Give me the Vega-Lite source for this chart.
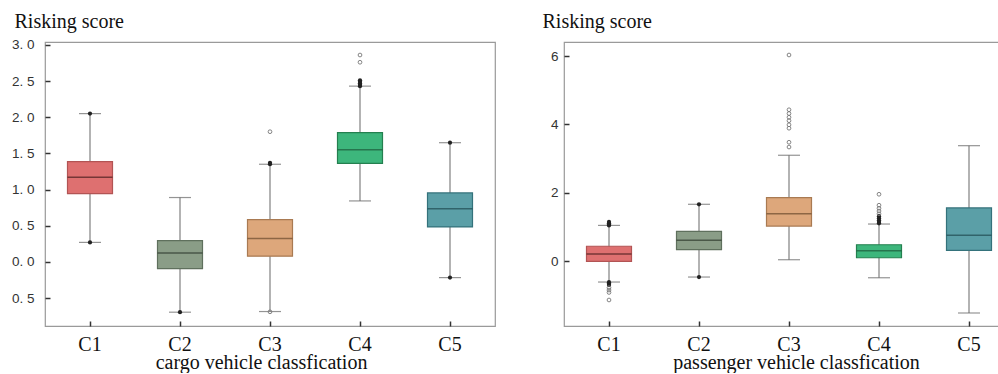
{
  "$schema": "https://vega.github.io/schema/vega-lite/v6.json",
  "padding": {"left": 10, "top": 10, "right": 0, "bottom": 0},
  "background": "white",
  "spacing": 45,
  "datasets": {
    "cargo_box": [
      {"cat": "C1", "lo": 0.27, "q1": 0.943, "med": 1.17, "q3": 1.385, "hi": 2.05},
      {"cat": "C2", "lo": -0.695, "q1": -0.092, "med": 0.124, "q3": 0.295, "hi": 0.89},
      {"cat": "C3", "lo": -0.686, "q1": 0.079, "med": 0.322, "q3": 0.585, "hi": 1.35},
      {"cat": "C4", "lo": 0.843, "q1": 1.363, "med": 1.55, "q3": 1.786, "hi": 2.43},
      {"cat": "C5", "lo": -0.217, "q1": 0.483, "med": 0.736, "q3": 0.953, "hi": 1.648}
    ],
    "cargo_pts": [
      {"cat": "C1", "v": 2.05, "kind": "filled"},
      {"cat": "C1", "v": 0.27, "kind": "filled"},
      {"cat": "C2", "v": -0.695, "kind": "filled"},
      {"cat": "C3", "v": 1.35, "kind": "filled"},
      {"cat": "C3", "v": 1.37, "kind": "filled"},
      {"cat": "C3", "v": 1.80, "kind": "open"},
      {"cat": "C3", "v": -0.69, "kind": "open"},
      {"cat": "C4", "v": 2.43, "kind": "filled"},
      {"cat": "C4", "v": 2.45, "kind": "filled"},
      {"cat": "C4", "v": 2.47, "kind": "filled"},
      {"cat": "C4", "v": 2.49, "kind": "filled"},
      {"cat": "C4", "v": 2.51, "kind": "filled"},
      {"cat": "C4", "v": 2.76, "kind": "open"},
      {"cat": "C4", "v": 2.86, "kind": "open"},
      {"cat": "C5", "v": 1.648, "kind": "filled"},
      {"cat": "C5", "v": -0.217, "kind": "filled"}
    ],
    "pass_box": [
      {"cat": "C1", "lo": -0.605, "q1": 0.0, "med": 0.213, "q3": 0.44, "hi": 1.05},
      {"cat": "C2", "lo": -0.459, "q1": 0.34, "med": 0.614, "q3": 0.877, "hi": 1.667},
      {"cat": "C3", "lo": 0.047, "q1": 1.03, "med": 1.39, "q3": 1.86, "hi": 3.10},
      {"cat": "C4", "lo": -0.48, "q1": 0.105, "med": 0.31, "q3": 0.485, "hi": 1.09},
      {"cat": "C5", "lo": -1.51, "q1": 0.32, "med": 0.76, "q3": 1.56, "hi": 3.38}
    ],
    "pass_pts": [
      {"cat": "C1", "v": 1.05, "kind": "filled"},
      {"cat": "C1", "v": 1.08, "kind": "filled"},
      {"cat": "C1", "v": 1.11, "kind": "filled"},
      {"cat": "C1", "v": 1.15, "kind": "filled"},
      {"cat": "C1", "v": -0.61, "kind": "filled"},
      {"cat": "C1", "v": -0.65, "kind": "filled"},
      {"cat": "C1", "v": -0.69, "kind": "filled"},
      {"cat": "C1", "v": -0.77, "kind": "open"},
      {"cat": "C1", "v": -0.84, "kind": "open"},
      {"cat": "C1", "v": -0.91, "kind": "open"},
      {"cat": "C1", "v": -1.13, "kind": "open"},
      {"cat": "C2", "v": 1.667, "kind": "filled"},
      {"cat": "C2", "v": -0.459, "kind": "filled"},
      {"cat": "C3", "v": 6.03, "kind": "open"},
      {"cat": "C3", "v": 4.43, "kind": "open"},
      {"cat": "C3", "v": 4.32, "kind": "open"},
      {"cat": "C3", "v": 4.21, "kind": "open"},
      {"cat": "C3", "v": 4.11, "kind": "open"},
      {"cat": "C3", "v": 3.99, "kind": "open"},
      {"cat": "C3", "v": 3.89, "kind": "open"},
      {"cat": "C3", "v": 3.48, "kind": "open"},
      {"cat": "C3", "v": 3.34, "kind": "open"},
      {"cat": "C4", "v": 1.96, "kind": "open"},
      {"cat": "C4", "v": 1.64, "kind": "open"},
      {"cat": "C4", "v": 1.55, "kind": "open"},
      {"cat": "C4", "v": 1.47, "kind": "open"},
      {"cat": "C4", "v": 1.39, "kind": "open"},
      {"cat": "C4", "v": 1.32, "kind": "filled"},
      {"cat": "C4", "v": 1.26, "kind": "filled"},
      {"cat": "C4", "v": 1.20, "kind": "filled"},
      {"cat": "C4", "v": 1.15, "kind": "filled"},
      {"cat": "C4", "v": 1.11, "kind": "filled"}
    ]
  },
  "config": {
    "view": {"stroke": "#9a9a9a", "strokeWidth": 1.2},
    "axis": {"grid": false, "domain": false, "tickColor": "#333", "tickWidth": 1.5, "tickSize": -5},
    "axisX": {"labelFont": "Liberation Serif", "labelFontSize": 20, "labelColor": "#111", "labelAngle": 0, "labelBaseline": "alphabetic", "labelPadding": 29,
              "titleFont": "Liberation Serif", "titleFontSize": 20, "titleFontWeight": "normal", "titleColor": "#111", "titleBaseline": "alphabetic", "titleY": 42, "titleAlign": "center"},
    "axisY": {"labelFont": "Liberation Sans", "labelFontSize": 13.5, "labelColor": "#333",
              "titleFont": "Liberation Serif", "titleFontSize": 20, "titleFontWeight": "normal", "titleColor": "#111", "titleAngle": 0, "titleAlign": "left", "titleBaseline": "alphabetic", "titleY": -15}
  },
  "hconcat": [
    {
      "width": 450,
      "height": 284,
      "layer": [
        {
          "data": {"name": "cargo_box"},
          "mark": {"type": "rule", "color": "#808080", "strokeWidth": 1.2},
          "encoding": {
            "x": {"field": "cat", "type": "nominal", "scale": {"paddingInner": 0, "paddingOuter": 0}, "axis": {"title": "cargo vehicle classfication", "titleX": 216}},
            "y": {"field": "lo", "type": "quantitative", "scale": {"domain": [-0.886, 3.04], "nice": false, "zero": false},
                  "axis": {"title": "Risking score", "titleX": -31, "labelPadding": 16, "values": [-0.5, 0, 0.5, 1, 1.5, 2, 2.5, 3], "labelExpr": "replace(format(abs(datum.value), '.1f'), '.', '. ')"}},
            "y2": {"field": "hi"}
          }
        },
        {
          "data": {"name": "cargo_box"},
          "mark": {"type": "tick", "color": "#666", "thickness": 1.2, "size": 22},
          "encoding": {"x": {"field": "cat", "type": "nominal"}, "y": {"field": "lo", "type": "quantitative"}}
        },
        {
          "data": {"name": "cargo_box"},
          "mark": {"type": "tick", "color": "#666", "thickness": 1.2, "size": 22},
          "encoding": {"x": {"field": "cat", "type": "nominal"}, "y": {"field": "hi", "type": "quantitative"}}
        },
        {
          "data": {"name": "cargo_box"},
          "mark": {"type": "bar", "width": {"band": 0.5}, "strokeWidth": 1.2},
          "encoding": {
            "x": {"field": "cat", "type": "nominal"},
            "y": {"field": "q1", "type": "quantitative"},
            "y2": {"field": "q3"},
            "fill": {"field": "cat", "type": "nominal", "legend": null, "scale": {"domain": ["C1", "C2", "C3", "C4", "C5"], "range": ["#DE7070", "#8A9D87", "#DDA77B", "#3DB67C", "#5B9FA7"]}},
            "stroke": {"field": "cat", "type": "nominal", "legend": null, "scale": {"domain": ["C1", "C2", "C3", "C4", "C5"], "range": ["#B25454", "#5F705D", "#A97A52", "#24804F", "#34727B"]}}
          }
        },
        {
          "data": {"name": "cargo_box"},
          "mark": {"type": "tick", "thickness": 1.5, "size": 45},
          "encoding": {
            "x": {"field": "cat", "type": "nominal"},
            "y": {"field": "med", "type": "quantitative"},
            "color": {"field": "cat", "type": "nominal", "legend": null, "scale": {"domain": ["C1", "C2", "C3", "C4", "C5"], "range": ["#4a1e1e", "#2f3a2e", "#6b4a2e", "#1d5a3a", "#204a50"]}}
          }
        },
        {
          "data": {"name": "cargo_pts"},
          "transform": [{"filter": "datum.kind === 'filled'"}],
          "mark": {"type": "point", "shape": "circle", "filled": true, "color": "#222", "size": 18, "opacity": 1},
          "encoding": {"x": {"field": "cat", "type": "nominal"}, "y": {"field": "v", "type": "quantitative"}}
        },
        {
          "data": {"name": "cargo_pts"},
          "transform": [{"filter": "datum.kind === 'open'"}],
          "mark": {"type": "point", "shape": "circle", "filled": false, "color": "#777", "size": 14, "strokeWidth": 0.9, "opacity": 1},
          "encoding": {"x": {"field": "cat", "type": "nominal"}, "y": {"field": "v", "type": "quantitative"}}
        }
      ]
    },
    {
      "width": 438,
      "height": 284,
      "layer": [
        {
          "data": {"name": "pass_box"},
          "mark": {"type": "rule", "color": "#808080", "strokeWidth": 1.2},
          "encoding": {
            "x": {"field": "cat", "type": "nominal", "scale": {"paddingInner": 0, "paddingOuter": 0, "range": [0, 450]}, "axis": {"title": "passenger vehicle classfication", "titleX": 232}},
            "y": {"field": "lo", "type": "quantitative", "scale": {"domain": [-1.89, 6.41], "nice": false, "zero": false},
                  "axis": {"title": "Risking score", "titleX": -22, "labelPadding": 11, "values": [0, 2, 4, 6], "format": "d"}},
            "y2": {"field": "hi"}
          }
        },
        {
          "data": {"name": "pass_box"},
          "mark": {"type": "tick", "color": "#666", "thickness": 1.2, "size": 22},
          "encoding": {"x": {"field": "cat", "type": "nominal"}, "y": {"field": "lo", "type": "quantitative"}}
        },
        {
          "data": {"name": "pass_box"},
          "mark": {"type": "tick", "color": "#666", "thickness": 1.2, "size": 22},
          "encoding": {"x": {"field": "cat", "type": "nominal"}, "y": {"field": "hi", "type": "quantitative"}}
        },
        {
          "data": {"name": "pass_box"},
          "mark": {"type": "bar", "width": {"band": 0.5}, "strokeWidth": 1.2},
          "encoding": {
            "x": {"field": "cat", "type": "nominal"},
            "y": {"field": "q1", "type": "quantitative"},
            "y2": {"field": "q3"},
            "fill": {"field": "cat", "type": "nominal", "legend": null},
            "stroke": {"field": "cat", "type": "nominal", "legend": null}
          }
        },
        {
          "data": {"name": "pass_box"},
          "mark": {"type": "tick", "thickness": 1.5, "size": 45},
          "encoding": {
            "x": {"field": "cat", "type": "nominal"},
            "y": {"field": "med", "type": "quantitative"},
            "color": {"field": "cat", "type": "nominal", "legend": null}
          }
        },
        {
          "data": {"name": "pass_pts"},
          "transform": [{"filter": "datum.kind === 'filled'"}],
          "mark": {"type": "point", "shape": "circle", "filled": true, "color": "#222", "size": 18, "opacity": 1},
          "encoding": {"x": {"field": "cat", "type": "nominal"}, "y": {"field": "v", "type": "quantitative"}}
        },
        {
          "data": {"name": "pass_pts"},
          "transform": [{"filter": "datum.kind === 'open'"}],
          "mark": {"type": "point", "shape": "circle", "filled": false, "color": "#777", "size": 14, "strokeWidth": 0.9, "opacity": 1},
          "encoding": {"x": {"field": "cat", "type": "nominal"}, "y": {"field": "v", "type": "quantitative"}}
        }
      ]
    }
  ]
}
